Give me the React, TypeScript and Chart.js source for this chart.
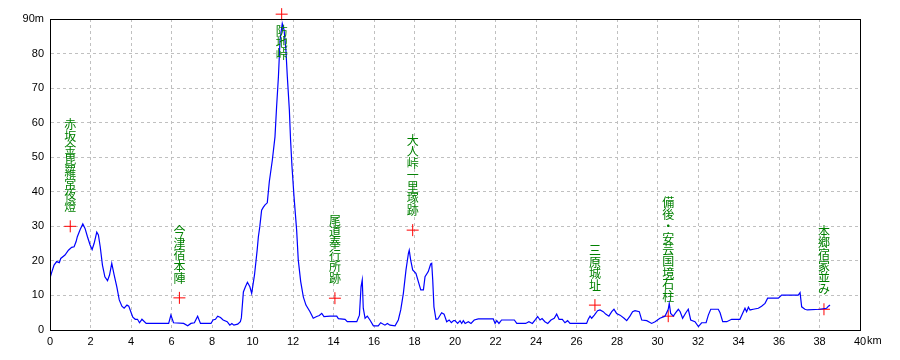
import React, { useEffect, useRef } from "react";
import { Chart, registerables } from "chart.js";

Chart.register(...registerables);

const distanceKm = [
  0.0, 0.08, 0.2, 0.33, 0.46, 0.53, 0.74, 0.91, 1.07, 1.19, 1.29, 1.35, 1.49, 1.62, 1.73, 1.85, 1.98, 2.08, 2.18, 2.31,
  2.39, 2.48, 2.59, 2.71, 2.84, 2.94, 3.05, 3.17, 3.3, 3.42, 3.55, 3.66, 3.8, 3.89, 3.99, 4.09, 4.21, 4.32, 4.42, 4.54,
  4.75, 5.86, 5.97, 6.1, 6.6, 6.8, 6.96, 7.13, 7.29, 7.43, 7.95, 8.05, 8.17, 8.28, 8.42, 8.55, 8.75, 8.88, 8.98, 9.08,
  9.27, 9.4, 9.45, 9.55, 9.65, 9.75, 9.87, 9.96, 10.1, 10.23, 10.29, 10.36, 10.45, 10.53, 10.62, 10.73, 10.83, 10.98, 11.11, 11.19,
  11.28, 11.36, 11.47, 11.56, 11.65, 11.72, 11.82, 11.88, 11.95, 12.05, 12.18, 12.26, 12.38, 12.51, 12.64, 12.84, 13.0, 13.17, 13.3, 13.42,
  13.53, 13.83, 14.16, 14.24, 14.57, 14.68, 15.15, 15.28, 15.36, 15.42, 15.47, 15.56, 15.67, 15.8, 15.97, 16.21, 16.33, 16.54, 16.66, 16.79,
  17.04, 17.2, 17.32, 17.45, 17.58, 17.7, 17.74, 17.81, 17.91, 18.07, 18.19, 18.31, 18.44, 18.52, 18.68, 18.8, 18.85, 18.9, 18.96, 19.06,
  19.15, 19.34, 19.46, 19.59, 19.71, 19.82, 19.93, 20.0, 20.13, 20.25, 20.33, 20.41, 20.5, 20.66, 20.79, 20.95, 21.15, 21.89, 21.98, 22.06,
  22.17, 22.3, 22.93, 23.05, 23.49, 23.65, 23.82, 23.98, 24.08, 24.2, 24.3, 24.44, 24.58, 24.74, 24.9, 25.02, 25.14, 25.3, 25.43, 25.56,
  25.68, 26.5, 26.58, 26.67, 26.75, 26.88, 27.04, 27.16, 27.32, 27.44, 27.6, 27.74, 27.85, 27.98, 28.15, 28.35, 28.48, 28.64, 28.77, 28.89,
  29.1, 29.22, 29.47, 29.71, 29.88, 30.12, 30.37, 30.53, 30.58, 30.65, 30.78, 30.9, 31.03, 31.12, 31.24, 31.4, 31.52, 31.64, 31.85, 32.02,
  32.18, 32.4, 32.51, 32.63, 33.0, 33.09, 33.22, 33.42, 33.66, 34.07, 34.2, 34.32, 34.4, 34.49, 34.57, 34.73, 34.98, 35.14, 35.31, 35.44,
  35.97, 36.13, 36.95, 37.04, 37.12, 37.28, 37.4, 38.02, 38.35, 38.44, 38.52,
];

const elevationM = [
  15, 16.6, 18.8, 19.8, 19.5, 20.7, 21.7, 23.1, 23.9, 24.1, 25.6, 27, 29.1, 30.7, 29.4, 27, 24.6, 23.3, 25.1, 28.3,
  27.5, 24.1, 18.8, 15.4, 14.3, 15.9, 19.3, 15.9, 12.5, 8.7, 6.9, 6.3, 7.2, 6.9, 5.3, 3.7, 3.1, 3.1, 2.1, 3.1,
  1.9, 1.9, 4.3, 2.1, 1.9, 1.2, 1.9, 2.1, 4.0, 1.9, 1.9, 2.9, 3.1, 4.0, 3.6, 2.9, 2.4, 1.4, 1.9, 1.4,
  1.7, 2.4, 3.5, 11, 12.5, 13.8, 12.5, 10.6, 16, 23.1, 27, 29.9, 34.7, 35.5, 36.2, 36.8, 42.9, 49.2, 55.9, 64.6,
  73.3, 83.9, 88.7, 86.8, 81, 73.3, 63.7, 55, 47.3, 38.6, 28.9, 20.3, 14, 9.6, 7.2, 5.3, 3.4, 3.9, 4.2, 4.8,
  3.9, 4.0, 4.0, 3.3, 3.1, 2.4, 2.4, 4.3, 12.5, 14.5, 6.3, 3.4, 4.0, 2.9, 1.2, 1.2, 2.1, 1.4, 1.9, 1.4,
  1.2, 2.9, 5.8, 10.6, 17.4, 22.2, 23.1, 20.3, 17.4, 16.4, 14.0, 11.6, 11.6, 15.4, 16.9, 19.1, 19.3, 14.5, 6.7, 3.1,
  3.2, 5.0, 4.6, 2.4, 2.9, 2.1, 2.7, 2.7, 1.9, 2.7, 1.9, 2.7, 1.9, 2.4, 1.9, 2.9, 3.2, 3.2, 1.9, 2.7,
  1.9, 2.9, 2.9, 1.9, 1.9, 2.4, 1.9, 3.1, 3.9, 2.9, 3.3, 2.4, 1.9, 2.9, 3.4, 4.6, 3.1, 3.1, 2.1, 2.7,
  1.9, 1.9, 3.1, 4.0, 3.4, 4.3, 5.6, 5.8, 5.3, 4.6, 4.0, 5.3, 6.0, 4.8, 4.3, 3.4, 2.7, 4.0, 5.3, 5.6,
  5.3, 2.9, 2.7, 1.9, 2.4, 3.4, 4.0, 6.0, 7.7, 4.8, 4.0, 5.0, 6.0, 5.3, 3.4, 5.0, 6.0, 2.9, 2.4, 1.0,
  2.1, 2.1, 4.3, 6.0, 6.0, 5.0, 2.4, 2.4, 3.1, 3.1, 4.8, 6.3, 5.3, 6.6, 5.8, 6.0, 6.3, 6.9, 7.7, 9.2,
  9.2, 10.1, 10.1, 10.8, 6.7, 6.0, 5.8, 6.0, 6.3, 6.9, 7.2,
];

const markerKm = [1.0, 6.39, 11.44, 14.07, 17.91, 26.91, 30.53, 38.22];
const markerM = [30, 9.3, 91.4, 9.2, 28.9, 7.2, 4.0, 6.0];
const markerNames = [
  "赤坂金毘羅常夜燈",
  "今津宿本陣",
  "防地峠",
  "尾道奉行所跡",
  "大人峠一里塚跡",
  "三原城址",
  "備後・安芸国境石柱",
  "本郷宿家並み",
];

const xTicks = [0, 2, 4, 6, 8, 10, 12, 14, 16, 18, 20, 22, 24, 26, 28, 30, 32, 34, 36, 38, 40];
const yTicks = [0, 10, 20, 30, 40, 50, 60, 70, 80, 90];
const xUnit = "km";
const yUnit = "m";

const TICK_FONT = "11px 'Liberation Sans', Arial, sans-serif";
const LABEL_FONT = "12px 'Noto Sans CJK JP', sans-serif";

const overlayPlugin = {
  id: "overlay",
  afterDatasetsDraw(chart: any) {
    const { ctx, chartArea, scales } = chart;
    const xs = scales.x;
    const ys = scales.y;
    ctx.save();
    // labels
    ctx.font = LABEL_FONT;
    ctx.fillStyle = "#008000";
    ctx.textAlign = "center";
    ctx.textBaseline = "top";
    const step = 11.7;
    markerNames.forEach((name, i) => {
      const px = xs.getPixelForValue(markerKm[i]);
      const py = ys.getPixelForValue(markerM[i]);
      const chars = Array.from(name);
      const n = chars.length;
      let top = py - 14 - n * step;
      if (top < chartArea.top - 5) top = py + 11;
      chars.forEach((c, k) => {
        ctx.fillText(c, px, top + k * step);
      });
    });
    ctx.restore();
  },
  afterDraw(chart: any) {
    const { ctx, chartArea, scales } = chart;
    ctx.save();
    ctx.strokeStyle = "#000";
    ctx.lineWidth = 1;
    ctx.setLineDash([]);
    ctx.strokeRect(
      Math.round(chartArea.left) + 0.5,
      Math.round(chartArea.top) + 0.5,
      Math.round(chartArea.right - chartArea.left),
      Math.round(chartArea.bottom - chartArea.top)
    );
    // unit after last x tick
    ctx.font = TICK_FONT;
    ctx.fillStyle = "#000";
    ctx.textAlign = "left";
    ctx.textBaseline = "middle";
    const last = xTicks[xTicks.length - 1];
    const lx = scales.x.getPixelForValue(last);
    const w = ctx.measureText(String(last)).width;
    ctx.fillText(xUnit, lx + w / 2 + 1, chartArea.bottom + 11);
    ctx.restore();
  },
};

export default function App() {
  const ref = useRef<HTMLCanvasElement | null>(null);
  useEffect(() => {
    if (!ref.current) return;
    const profile = distanceKm.map((d, i) => ({ x: d, y: elevationM[i] }));
    const markers = markerKm.map((d, i) => ({ x: d, y: markerM[i] }));
    const chart = new Chart(ref.current, {
      type: "scatter",
      data: {
        datasets: [
          {
            type: "line",
            data: profile,
            borderColor: "#0000ff",
            borderWidth: 1.2,
            pointRadius: 0,
            tension: 0,
            fill: false,
          } as any,
          {
            type: "scatter",
            data: markers,
            pointStyle: "cross",
            pointRadius: 6,
            borderColor: "#ff0000",
            backgroundColor: "#ff0000",
            pointBorderWidth: 1,
            borderWidth: 1,
            clip: false,
          } as any,
        ],
      },
      plugins: [overlayPlugin],
      options: {
        responsive: false,
        animation: false,
        devicePixelRatio: 1,
        layout: { padding: { top: 19, right: 40, left: 0, bottom: 0 } },
        plugins: { legend: { display: false }, tooltip: { enabled: false } },
        scales: {
          x: {
            type: "linear",
            min: 0,
            max: 40,
            afterBuildTicks: (s: any) => {
              s.ticks = xTicks.map((v) => ({ value: v }));
            },
            afterFit: (s: any) => {
              s.height = 30;
            },
            ticks: {
              padding: 5,
              color: "#000",
              font: { family: "'Liberation Sans', Arial, sans-serif", size: 11 },
              maxRotation: 0,
              autoSkip: false,
              callback: (v: any) => String(v),
            },
            grid: {
              color: "#c0c0c0",
              drawTicks: false,
              lineWidth: 1,
            },
            border: { display: true, color: "#000", dash: [3, 3] } as any,
          },
          y: {
            type: "linear",
            min: 0,
            max: 90,
            afterBuildTicks: (s: any) => {
              s.ticks = yTicks.map((v) => ({ value: v }));
            },
            afterFit: (s: any) => {
              s.width = 50;
            },
            ticks: {
              padding: 6,
              color: "#000",
              font: { family: "'Liberation Sans', Arial, sans-serif", size: 11 },
              autoSkip: false,
              callback: (v: any) => (v === yTicks[yTicks.length - 1] ? v + yUnit : String(v)),
            },
            grid: {
              color: "#c0c0c0",
              drawTicks: false,
              lineWidth: 1,
            },
            border: { display: true, color: "#000", dash: [3, 3] } as any,
          },
        },
      } as any,
    });
    return () => chart.destroy();
  }, []);
  return (
    <div style={{ position: "absolute", left: 0, top: 0, width: 900, height: 360, background: "#fff" }}>
      <canvas ref={ref} width={900} height={360} style={{ display: "block", width: 900, height: 360 }} />
    </div>
  );
}
